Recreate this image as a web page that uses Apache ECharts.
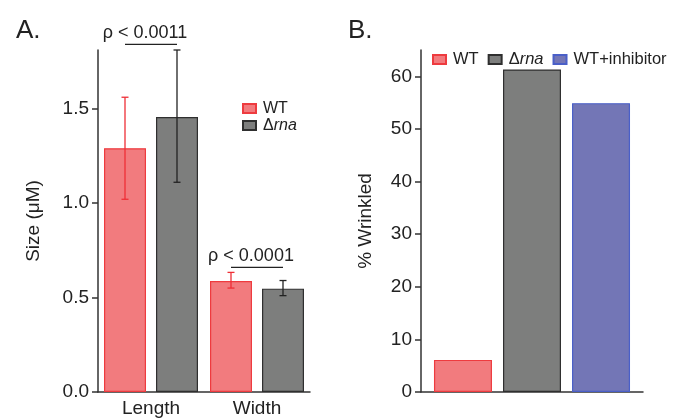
<!DOCTYPE html>
<html>
<head>
<meta charset="utf-8">
<script src="https://cdn.jsdelivr.net/npm/echarts@6/dist/echarts.min.js"></script>
<style>
  html, body { margin: 0; padding: 0; background: #fff; }
  #chart { width: 676px; height: 420px; }
</style>
</head>
<body>
<div id="chart"></div>
<script>
// panel A: cell size
let sizeCategories = ['Length', 'Width'];
let sizeWT = [1.29, 0.587];
let sizeWTErr = [[1.02, 1.56], [0.55, 0.633]];
let sizeRna = [1.455, 0.547];
let sizeRnaErr = [[1.11, 1.81], [0.51, 0.59]];
let sizeTicks = [0, 0.5, 1.0, 1.5];
let sizePValues = ['ρ < 0.0011', 'ρ < 0.0001'];
let sizePLevels = [1.84, 0.66];

// panel B: % wrinkled
let wrinkledNames = ['WT', 'Δrna', 'WT+inhibitor'];
let wrinkledValues = [6.1, 61.3, 54.9];
let wrinkledTicks = [0, 10, 20, 30, 40, 50, 60];

let font = "'Liberation Sans', Arial, sans-serif";
let ink = '#222';
let colors = {
  'WT': {fill: '#f27b7e', border: '#ee3b3f'},
  'Δrna': {fill: '#7d7e7d', border: '#2f2f2f'},
  'WT+inhibitor': {fill: '#7376b6', border: '#4a5fc8'}
};
let barW = 42, barGapPx = 10;
let offset = (barW + barGapPx) / 2;

function legendText(size) {
  return {
    fontFamily: font, fontSize: size, color: ink, padding: [0, 0, 0, 2],
    rich: {
      n: {fontFamily: font, fontSize: size, color: ink},
      i: {fontFamily: font, fontSize: size, color: ink, fontStyle: 'italic'}
    }
  };
}
let legendFormatter = name => name === 'Δrna' ? '{n|Δ}{i|rna}' : name;

let chart = echarts.init(document.getElementById('chart'));

function errorBars(values, dx, color) {
  return {
    type: 'custom',
    xAxisIndex: 0, yAxisIndex: 0,
    silent: true,
    z: 5,
    data: values.map((e, i) => [i, e[0], e[1]]),
    renderItem: (params, api) => {
      let lo = api.coord([api.value(0), api.value(1)]);
      let hi = api.coord([api.value(0), api.value(2)]);
      let x = lo[0] + dx;
      let cap = 3.5;
      let style = {stroke: color, lineWidth: 1.3};
      return {
        type: 'group',
        children: [
          {type: 'line', shape: {x1: x, y1: lo[1], x2: x, y2: hi[1]}, style: style},
          {type: 'line', shape: {x1: x - cap, y1: lo[1], x2: x + cap, y2: lo[1]}, style: style},
          {type: 'line', shape: {x1: x - cap, y1: hi[1], x2: x + cap, y2: hi[1]}, style: style}
        ]
      };
    }
  };
}

let axisLine = {show: true, lineStyle: {color: '#333', width: 1.5}};

let option = {
  animation: false,
  textStyle: {fontFamily: font, color: ink},
  title: [
    {text: 'A.', left: 11, top: 13, textStyle: {fontFamily: font, fontSize: 26, fontWeight: 'normal', color: ink}},
    {text: 'B.', left: 343, top: 13, textStyle: {fontFamily: font, fontSize: 26, fontWeight: 'normal', color: ink}}
  ],
  legend: [
    {
      data: ['WT', 'Δrna'],
      orient: 'vertical',
      left: 237, top: 95,
      icon: 'rect',
      itemWidth: 13, itemHeight: 9, itemGap: 0,
      formatter: legendFormatter,
      textStyle: Object.assign(legendText(16), {lineHeight: 17})
    },
    {
      data: wrinkledNames,
      orient: 'horizontal',
      left: 427, top: 46, width: 320,
      icon: 'rect',
      itemWidth: 13, itemHeight: 9, itemGap: 9,
      formatter: legendFormatter,
      textStyle: legendText(16.5)
    }
  ],
  grid: [
    {left: 98, right: 366, top: 50, bottom: 28},
    {left: 421, right: 33, top: 50, bottom: 28}
  ],
  xAxis: [
    {
      type: 'category', gridIndex: 0, data: sizeCategories,
      axisLine: axisLine,
      axisTick: {length: 5, lineStyle: {color: '#333', width: 1.5}},
      axisLabel: {fontFamily: font, fontSize: 19, color: ink, margin: 7}
    },
    {
      type: 'category', gridIndex: 1, data: [''],
      axisLine: axisLine,
      axisTick: {length: 7, lineStyle: {color: '#333', width: 1.5}},
      axisLabel: {show: false}
    }
  ],
  yAxis: [
    {
      type: 'value', gridIndex: 0, min: 0, max: 1.81,
      name: 'Size (μM)', nameLocation: 'middle', nameGap: 55,
      nameTextStyle: {fontFamily: font, fontSize: 19, color: ink},
      axisLine: axisLine,
      axisTick: {show: true, length: 6, customValues: sizeTicks, lineStyle: {color: '#333', width: 1.5}},
      axisLabel: {fontFamily: font, fontSize: 19, color: ink, margin: 9, customValues: sizeTicks,
        formatter: v => v.toFixed(1)},
      splitLine: {show: false}
    },
    {
      type: 'value', gridIndex: 1, min: 0, max: 65,
      name: '% Wrinkled', nameLocation: 'middle', nameGap: 46,
      nameTextStyle: {fontFamily: font, fontSize: 19, color: ink},
      axisLine: axisLine,
      axisTick: {show: true, length: 6, customValues: wrinkledTicks, lineStyle: {color: '#333', width: 1.5}},
      axisLabel: {fontFamily: font, fontSize: 19, color: ink, margin: 9, customValues: wrinkledTicks},
      splitLine: {show: false}
    }
  ],
  series: [
    {
      name: 'WT', type: 'bar', xAxisIndex: 0, yAxisIndex: 0,
      data: sizeWT, barWidth: barW, barGap: (barGapPx / barW * 100) + '%',
      itemStyle: {color: colors['WT'].fill, borderColor: colors['WT'].border, borderWidth: 1.2}
    },
    {
      name: 'Δrna', type: 'bar', xAxisIndex: 0, yAxisIndex: 0,
      data: sizeRna, barWidth: barW,
      itemStyle: {color: colors['Δrna'].fill, borderColor: colors['Δrna'].border, borderWidth: 1.2}
    },
    errorBars(sizeWTErr, -offset, '#ee2f36'),
    errorBars(sizeRnaErr, offset, '#222'),
    {
      type: 'custom', xAxisIndex: 0, yAxisIndex: 0, silent: true, z: 6,
      data: sizePLevels.map((v, i) => [i, v]),
      renderItem: (params, api) => {
        let p = api.coord([api.value(0), api.value(1)]);
        let i = params.dataIndex;
        return {
          type: 'group',
          children: [
            {type: 'line', shape: {x1: p[0] - offset, y1: p[1], x2: p[0] + offset, y2: p[1]},
              style: {stroke: '#222', lineWidth: 1.3}},
            {type: 'text', x: p[0] - 6, y: p[1] - 2,
              style: {text: sizePValues[i], fontFamily: font, fontSize: 18, fill: ink,
                align: 'center', verticalAlign: 'bottom'}}
          ]
        };
      }
    },
    ...wrinkledNames.map((name, k) => ({
      name: name, type: 'bar', xAxisIndex: 1, yAxisIndex: 1,
      data: [wrinkledValues[k]], barWidth: 58, barGap: '19%',
      itemStyle: {color: colors[name].fill, borderColor: colors[name].border, borderWidth: 1.2}
    }))
  ]
};

chart.setOption(option);
</script>
</body>
</html>
